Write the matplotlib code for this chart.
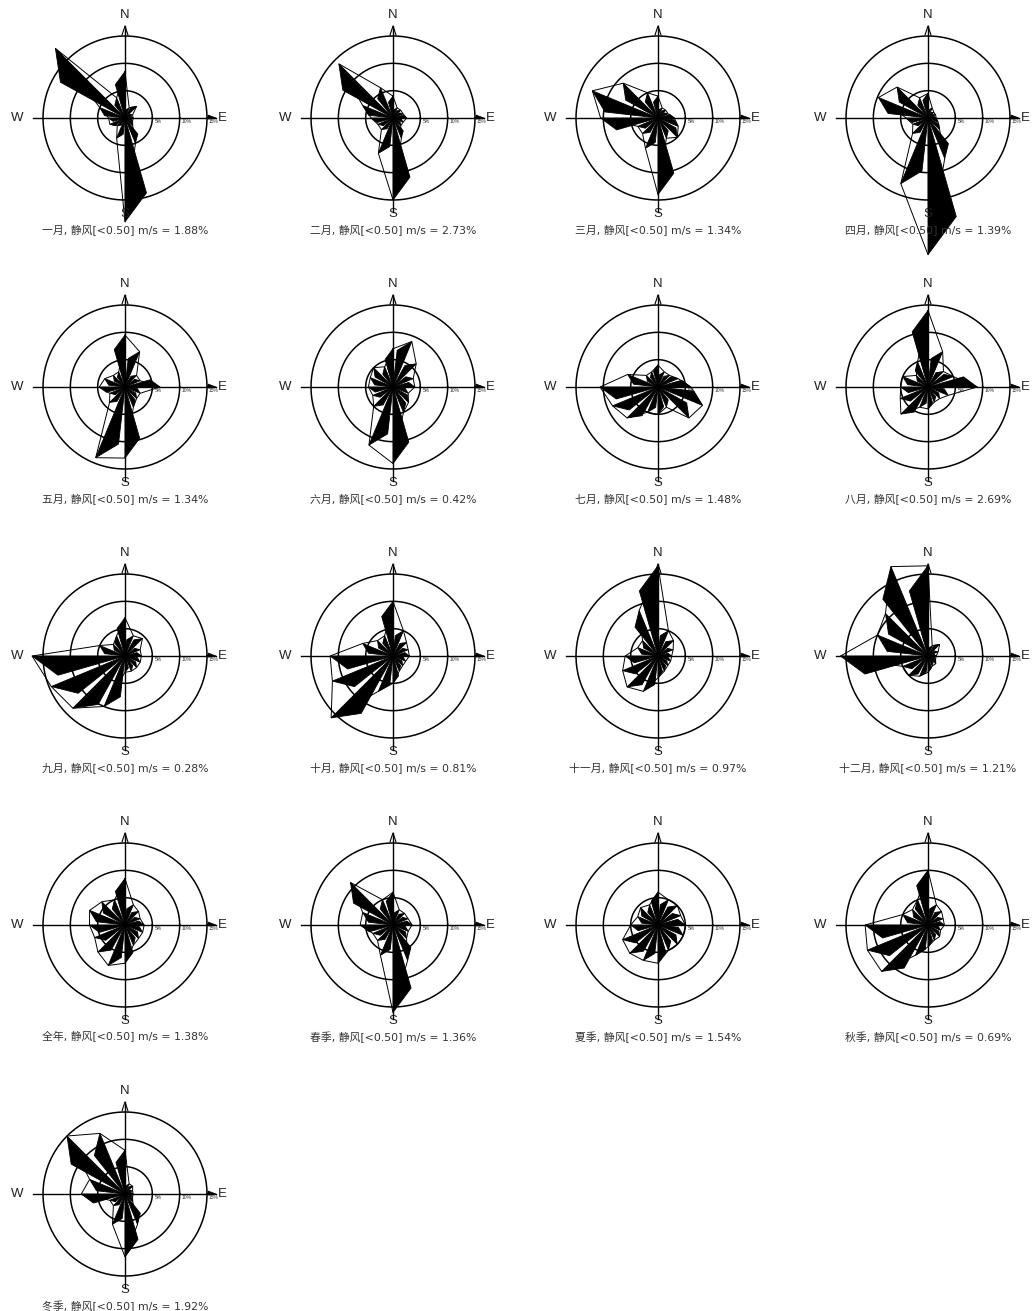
import numpy as np
import matplotlib
matplotlib.use('Agg')
import matplotlib.pyplot as plt

plt.rcParams['font.family'] = ['Liberation Sans', 'Noto Sans CJK SC', 'DejaVu Sans']

# 16 directions: N NNE NE ENE E ESE SE SSE S SSW SW WSW W WNW NW NNW
dirs = ['N', 'NNE', 'NE', 'ENE', 'E', 'ESE', 'SE', 'SSE',
        'S', 'SSW', 'SW', 'WSW', 'W', 'WNW', 'NW', 'NNW']

names = ['一月', '二月', '三月', '四月', '五月', '六月', '七月', '八月',
         '九月', '十月', '十一月', '十二月', '全年', '春季', '夏季', '秋季', '冬季']
calm = [1.88, 2.73, 1.34, 1.39, 1.34, 0.42, 1.48, 2.69,
        0.28, 0.81, 0.97, 1.21, 1.38, 1.36, 1.54, 0.69, 1.92]

jan = [8.5, 2, 3, 1.5, 1.5, 1.5, 2, 5, 19, 4, 2, 3, 3, 5, 18, 4]
feb = [4, 2, 2, 2, 2.5, 2, 2, 4, 15, 7, 3, 3, 4, 6, 14, 6]
mar = [4, 2, 2, 2, 3, 4, 5, 4, 14, 6, 4, 4, 10.5, 13, 9, 5]
apr = [4.5, 2, 1.5, 1.5, 1.5, 2, 3, 8, 25, 13, 4, 3, 4, 9.8, 8, 4]
may = [9.5, 7, 3, 3, 6.4, 3, 3, 4, 13, 14, 4, 3, 4.7, 4, 3, 3]
jun = [7, 9, 6, 4, 4, 3, 4, 5, 14, 11.5, 5, 4, 4.5, 4.5, 5, 4]
jul = [4, 3, 3, 4, 6, 8.8, 8, 4, 5, 5, 8, 9, 10.6, 6, 3, 3]
aug = [14, 7, 4, 5, 9, 4, 3, 3, 4, 4, 7, 5.5, 5, 5, 3, 5]
sep = [7, 4, 4.5, 3, 3, 3, 3, 3, 3, 10, 13.5, 14.6, 17, 5, 3, 4]
octo = [10, 5, 3.5, 3, 3, 2.5, 2.5, 3, 5, 7, 16, 12, 11.5, 6, 4, 4]
nov = [16.5, 5, 4, 3, 2.5, 2.5, 2.5, 3, 4, 7, 8, 7, 6, 4, 4, 9]
dec = [16.5, 2, 3, 2, 1.5, 1.5, 2, 2, 3, 4, 5, 5, 16, 10, 11, 17.7]
year = [8.5, 4, 3.5, 3, 3.5, 3.5, 3.5, 4, 7, 8, 7, 6, 6.5, 7, 6, 5]
spring = [6, 3, 3, 3, 3.5, 3, 3.5, 7, 16, 6, 4, 4, 6, 6, 11, 5]
summer = [6, 5, 5, 4.5, 5, 5, 5, 5, 7, 7, 7.3, 7, 5, 4, 4.5, 4]
autumn = [10, 4, 3.5, 3, 3, 2.5, 3, 3, 4, 6, 12, 12, 11.5, 5, 4, 5]
winter = [8, 2, 2, 1.5, 1.5, 1.5, 2, 6, 11.5, 6, 3, 3, 8, 7, 15, 12]

roses = [jan, feb, mar, apr, may, jun, jul, aug,
         sep, octo, nov, dec, year, spring, summer, autumn, winter]

rings = [5, 10, 15]
ring_labels = ['5%', '10%', '15%']

W, H = 1035, 1311
col_x = [125, 393, 658, 928]
row_y0, row_dy = 118, 269
scale = 82 / 15.0   # px per percent

fig = plt.figure(figsize=(W / 100, H / 100), dpi=100)
fig.patch.set_facecolor('white')


def pt(deg, r):
    a = np.deg2rad(deg)
    return r * np.sin(a), r * np.cos(a)


for k, (vals, name, c) in enumerate(zip(roses, names, calm)):
    cx = col_x[k % 4]
    cy = row_y0 + row_dy * (k // 4)
    half = 125
    ax = fig.add_axes([(cx - half) / W, 1 - (cy + half) / H, 2 * half / W, 2 * half / H])
    ax.set_xlim(-half, half)
    ax.set_ylim(-half, half)
    ax.set_aspect('equal')
    ax.axis('off')

    # petals: black half-kite + thin frequency outline
    angles = np.arange(16) * 22.5
    tips = []
    for ang, v in zip(angles, vals):
        r = v * scale
        tip = pt(ang, r)
        side = pt(ang - 16, r * 0.75)
        tips.append(tip)
        ax.fill([0, side[0], tip[0]], [0, side[1], tip[1]], color='black',
                lw=0.6, clip_on=False, zorder=3)
    tx = [t[0] for t in tips] + [tips[0][0]]
    ty = [t[1] for t in tips] + [tips[0][1]]
    ax.plot(tx, ty, color='black', lw=0.7, clip_on=False, zorder=3)

    # rings
    th = np.linspace(0, 2 * np.pi, 200)
    for rg in rings:
        ax.plot(rg * scale * np.cos(th), rg * scale * np.sin(th), color='black', lw=1.1, zorder=2)

    # cross lines and arrows
    ax.plot([-92, 91], [0, 0], color='black', lw=1.0, zorder=4)
    ax.plot([0, 0], [-94, 92], color='black', lw=1.0, zorder=4)
    ax.plot([-3, 0, 3], [83, 92, 83], color='black', lw=0.8, zorder=4)
    ax.fill([83, 91, 83], [3, 0, -1], color='black', lw=0.5, zorder=4)

    for rg, lab in zip(rings, ring_labels):
        ax.text(rg * scale + 2, -1, lab, fontsize=3.6, ha='left', va='top',
                color='#333333', zorder=5)

    ax.text(0, 97, 'N', fontsize=9.5, ha='center', va='bottom', color='#222222')
    ax.text(-102, 0, 'W', fontsize=9.5, ha='right', va='center', color='#222222')
    ax.text(93, 0, 'E', fontsize=9.5, ha='left', va='center', color='#222222')
    ax.text(0, -90, 'S', fontsize=9.5, ha='center', va='top', color='#222222')

    ax.text(0, -112, f'{name}, 静风[<0.50] m/s = {c:.2f}%', fontsize=7.8,
            ha='center', va='center', color='#333333',
            family=['DejaVu Sans', 'Noto Sans CJK SC'])

fig.savefig('out.png', dpi=100, facecolor='white')
